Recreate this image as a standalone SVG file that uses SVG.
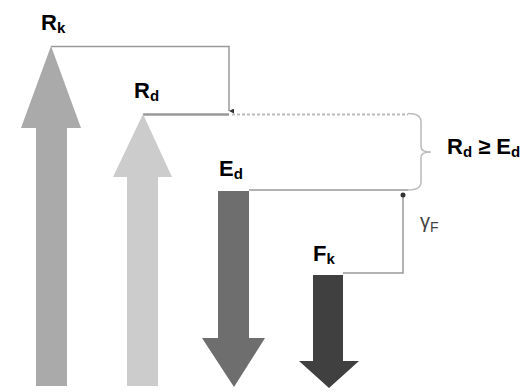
<svg xmlns="http://www.w3.org/2000/svg" width="529" height="392" viewBox="0 0 529 392">
<style>
.lbl{font-family:"Liberation Sans",Arial,sans-serif;font-weight:bold;font-size:22px;fill:#000}
.sub{font-size:15px}
.conn{fill:none;stroke:#999;stroke-width:1.5}
</style>
<defs>
<marker id="ah" viewBox="0 0 10 10" refX="5" refY="10" markerWidth="5" markerHeight="5" orient="auto-start-reverse" markerUnits="userSpaceOnUse">
<path d="M0,0 L10,0 L5,10 Z" fill="#333"/>
</marker>
</defs>
<rect width="529" height="392" fill="#fff"/>
<g id="connectors">
<path class="conn" d="M51,46.5 H229 V111" marker-end="url(#ah)"/>
<path d="M143,114.5 H229" fill="none" stroke="#999" stroke-width="2.5"/>
<path d="M232,114.5 H408" fill="none" stroke="#bbb" stroke-width="2" stroke-dasharray="3 2"/>
<path d="M408,113.5 Q421,113.5 421,122 V147 Q421,152 431,152 Q421,152 421,157 V182 Q421,190 408,190" fill="none" stroke="#bbb" stroke-width="1.5"/>
<path class="conn" d="M249,190 H408"/>
<path class="conn" d="M403,195 V273 H343"/>
<circle cx="403" cy="195" r="2.5" fill="#333"/>
</g>
<g id="Rk">
<path d="M36,386 V128 H21 L51,46 L81,128 H67 V386 Z" fill="#aaa"/>
<text class="lbl" x="41" y="30">R<tspan class="sub" dy="3">k</tspan></text>
</g>
<g id="Rd">
<path d="M127,386 V177 H113 L143,114 L172,177 H158 V386 Z" fill="#ccc"/>
<text class="lbl" x="134" y="98">R<tspan class="sub" dy="3">d</tspan></text>
</g>
<g id="Ed">
<path d="M218,191 H249 V338 H265 L234,387 L202,338 H218 Z" fill="#6e6e6e"/>
<text class="lbl" x="219" y="176">E<tspan class="sub" dy="3">d</tspan></text>
</g>
<g id="Fk">
<path d="M313,275 H343 V361 H359 L329,388 L299,361 H313 Z" fill="#404040"/>
<text class="lbl" x="313" y="261">F<tspan class="sub" dy="3">k</tspan></text>
</g>
<g id="condition">
<text class="lbl" x="447" y="154">R<tspan class="sub" dy="3">d</tspan><tspan dy="-3"> ≥ E</tspan><tspan class="sub" dy="3">d</tspan></text>
</g>
<g id="gammaF">
<text x="420" y="228" font-family="Liberation Sans,Arial,sans-serif" font-size="20" fill="#444">γ<tspan font-size="14" dy="4">F</tspan></text>
</g>
</svg>
